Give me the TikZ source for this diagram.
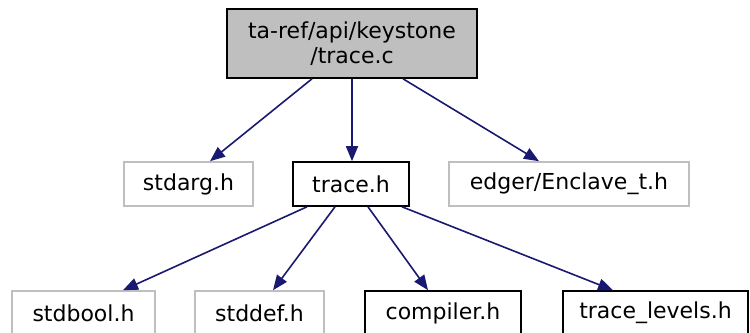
\documentclass[tikz,border=0pt]{standalone}
\usepackage{fontspec}
\setmainfont{DejaVu Sans}
\usetikzlibrary{arrows.meta}
\definecolor{edgeblue}{HTML}{191970}
\definecolor{lgray}{HTML}{BFBFBF}
\begin{document}
\begin{tikzpicture}[x=1bp,y=-1bp,
  box/.style={draw=black,line width=1.6bp,inner sep=0pt,minimum height=44bp,
    font=\fontsize{22bp}{25bp}\selectfont,align=center},
  extbox/.style={box,draw=lgray},
  edge/.style={draw=edgeblue,line width=1.6bp,-{Triangle[length=15bp,width=12bp]}}]
\useasboundingbox (0,0) rectangle (750,332);
\node[box,fill=lgray,minimum width=250bp,minimum height=69bp] (top) at (352,43.5) {ta-ref/api/keystone\\/trace.c};
\node[extbox,minimum width=129bp] (stdarg) at (188.5,184) {stdarg.h};
\node[box,minimum width=116bp] (traceh) at (351,184) {trace.h};
\node[extbox,minimum width=240bp] (edger) at (569,184) {edger/Enclave\_t.h};
\node[extbox,minimum width=143bp] (stdbool) at (83.5,313) {stdbool.h};
\node[extbox,minimum width=129bp] (stddef) at (259.5,313) {stddef.h};
\node[box,minimum width=156bp] (compiler) at (443,313) {compiler.h};
\node[box,minimum width=185bp] (levels) at (655.5,313) {trace\_levels.h};
\draw[edge] ([xshift=-40bp]top.south) -- ([xshift=21.5bp]stdarg.north);
\draw[edge] (top.south) -- ([xshift=1bp]traceh.north);
\draw[edge] ([xshift=51bp]top.south) -- ([xshift=-30bp]edger.north);
\draw[edge] ([xshift=-44bp]traceh.south) -- ([xshift=39.5bp]stdbool.north);
\draw[edge] ([xshift=-16bp]traceh.south) -- ([xshift=13.5bp]stddef.north);
\draw[edge] ([xshift=17bp]traceh.south) -- ([xshift=-15bp]compiler.north);
\draw[edge] ([xshift=51bp]traceh.south) -- ([xshift=-42.5bp]levels.north);
\end{tikzpicture}
\end{document}
